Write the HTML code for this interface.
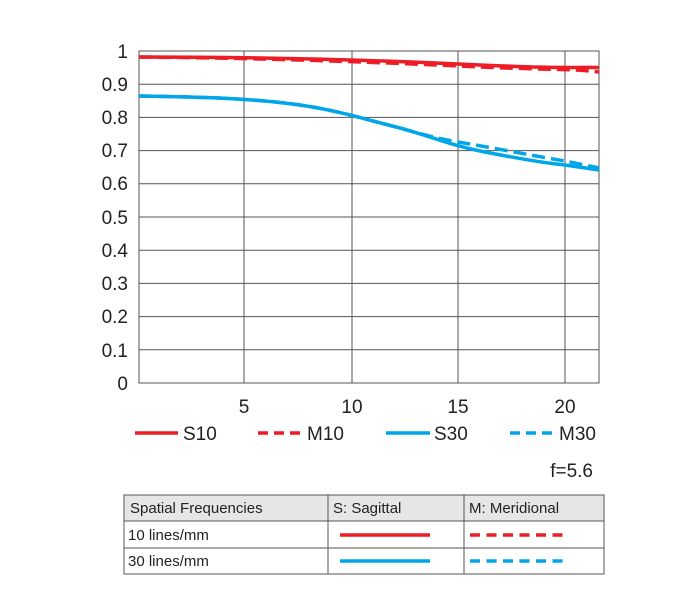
<!DOCTYPE html>
<html><head><style>body{margin:0;background:#fff}</style></head><body>
<svg width="700" height="595" xmlns="http://www.w3.org/2000/svg" font-family="Liberation Sans, sans-serif">
<g stroke="#555" stroke-width="1" fill="none">
<rect x="139" y="51" width="460" height="332"/>
<line x1="139" y1="84.2" x2="599" y2="84.2"/><line x1="139" y1="117.4" x2="599" y2="117.4"/>
<line x1="139" y1="150.6" x2="599" y2="150.6"/><line x1="139" y1="183.8" x2="599" y2="183.8"/>
<line x1="139" y1="217" x2="599" y2="217"/><line x1="139" y1="250.2" x2="599" y2="250.2"/>
<line x1="139" y1="283.4" x2="599" y2="283.4"/><line x1="139" y1="316.6" x2="599" y2="316.6"/>
<line x1="139" y1="349.8" x2="599" y2="349.8"/>
<line x1="244" y1="51" x2="244" y2="383"/><line x1="352" y1="51" x2="352" y2="383"/>
<line x1="458" y1="51" x2="458" y2="383"/><line x1="565" y1="51" x2="565" y2="383"/>
</g>
<g font-size="19" fill="#222" text-anchor="end">
<text x="128" y="58">1</text><text x="128" y="91">0.9</text><text x="128" y="124">0.8</text>
<text x="128" y="157">0.7</text><text x="128" y="190">0.6</text><text x="128" y="224">0.5</text>
<text x="128" y="257">0.4</text><text x="128" y="290">0.3</text><text x="128" y="323">0.2</text>
<text x="128" y="357">0.1</text><text x="128" y="390">0</text>
</g>
<g font-size="19" fill="#222" text-anchor="middle">
<text x="244" y="413">5</text><text x="352" y="413">10</text><text x="458" y="413">15</text><text x="565" y="413">20</text>
</g>
<g fill="none" stroke-width="3.5">
<path d="M139,57 C250,57 350,59 458,64 S565,67 599,67.5" stroke="#ee1c25"/>
<path d="M139,57 C250,58 350,61 458,66 S565,68 599,72" stroke="#ee1c25" stroke-dasharray="13,6"/>
<path d="M139,96 C200,97 250,98 300,105 C340,111 360,118 400,128 C430,136 450,145 480,151 C520,159 545,163 565,165 L599,170" stroke="#00a6e8"/>
<path d="M139,96 C200,97 250,98 300,105 C340,111 360,118 400,128 C420,134 440,139 458,142 C500,149 540,157 565,161 L599,168" stroke="#00a6e8" stroke-dasharray="13,6"/>
</g>
<g stroke-width="3.5">
<line x1="135" y1="433" x2="178" y2="433" stroke="#ee1c25"/>
<line x1="258" y1="433" x2="303" y2="433" stroke="#ee1c25" stroke-dasharray="10,6"/>
<line x1="386" y1="433" x2="430" y2="433" stroke="#00a6e8"/>
<line x1="510" y1="433" x2="555" y2="433" stroke="#00a6e8" stroke-dasharray="10,6"/>
</g>
<g font-size="19" fill="#222">
<text x="183" y="440">S10</text><text x="307" y="440">M10</text><text x="434" y="440">S30</text><text x="559" y="440">M30</text>
<text x="593" y="477" text-anchor="end">f=5.6</text>
</g>
<rect x="124" y="495" width="480" height="26" fill="#e6e6e6"/>
<g stroke="#555" fill="none" stroke-width="1">
<rect x="124" y="495" width="480" height="79"/>
<line x1="124" y1="521" x2="604" y2="521"/><line x1="124" y1="548" x2="604" y2="548"/>
<line x1="328" y1="495" x2="328" y2="574"/><line x1="464" y1="495" x2="464" y2="574"/>
</g>
<g font-size="15" fill="#222">
<text x="130" y="513">Spatial Frequencies</text><text x="333" y="513">S: Sagittal</text><text x="469" y="513">M: Meridional</text>
<text x="128" y="540">10 lines/mm</text><text x="128" y="566">30 lines/mm</text>
</g>
<g stroke-width="3.5">
<line x1="340" y1="535" x2="430" y2="535" stroke="#ee1c25"/>
<line x1="470" y1="535" x2="567" y2="535" stroke="#ee1c25" stroke-dasharray="10,6.5"/>
<line x1="340" y1="561" x2="430" y2="561" stroke="#00a6e8"/>
<line x1="470" y1="561" x2="567" y2="561" stroke="#00a6e8" stroke-dasharray="10,6.5"/>
</g>
</svg>
</body></html>
